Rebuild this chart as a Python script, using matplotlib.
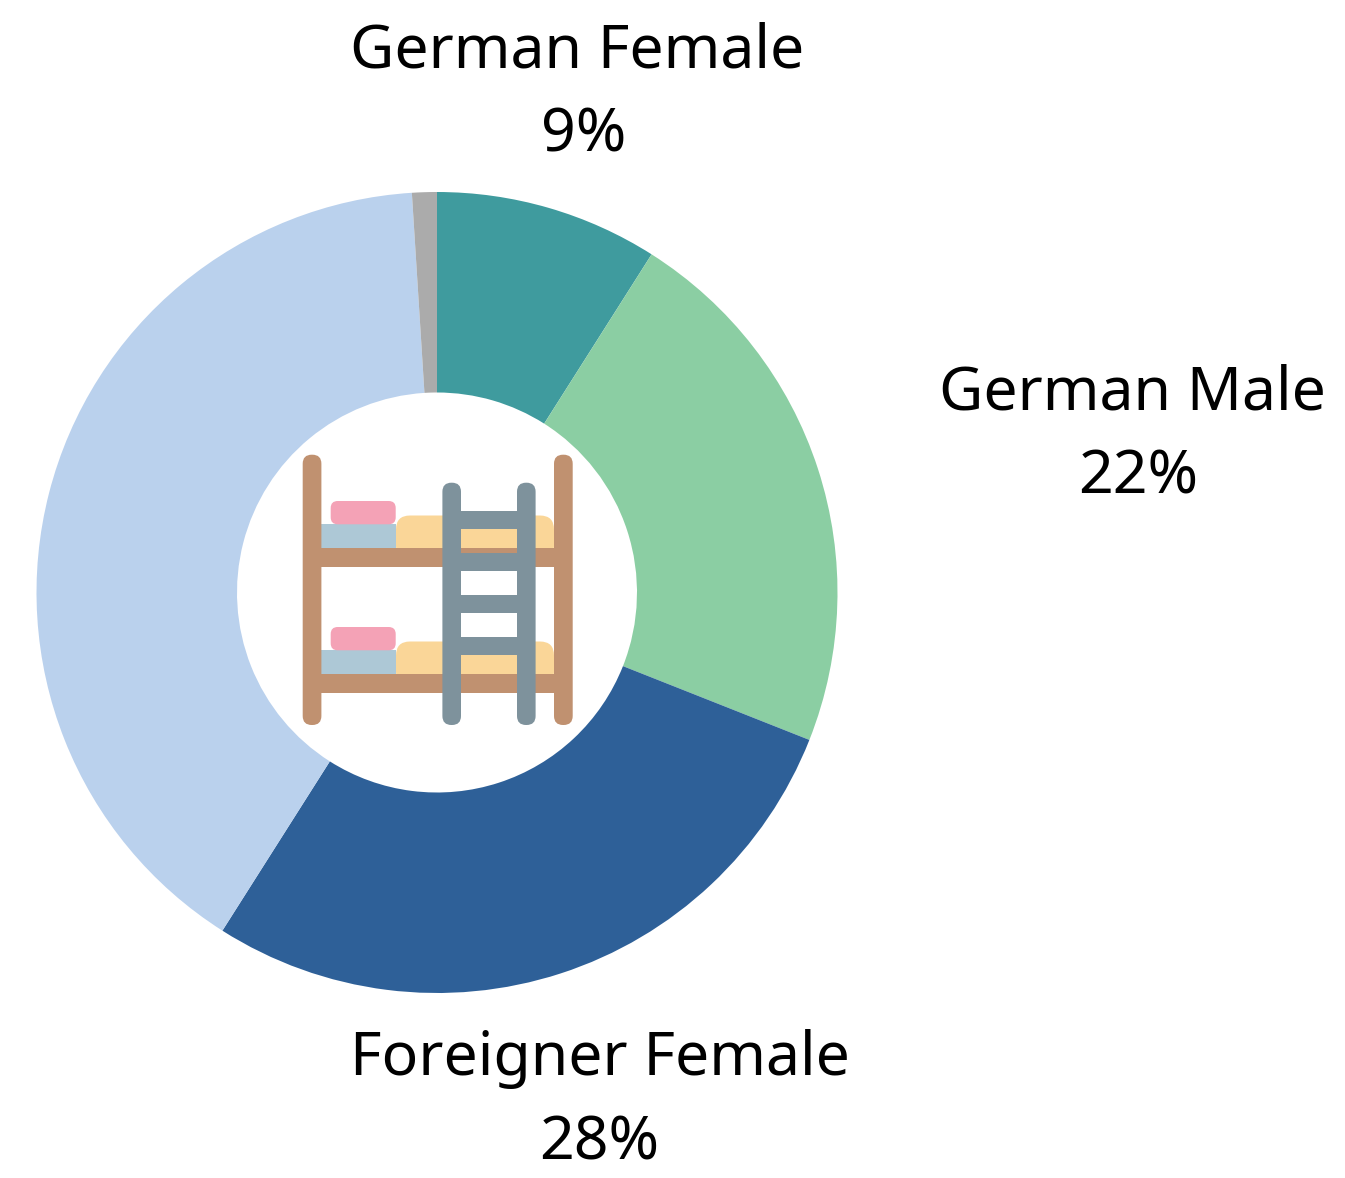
import matplotlib
matplotlib.use("Agg")
import matplotlib.pyplot as plt
from matplotlib.patches import FancyBboxPatch, Rectangle

W, H = 1345, 1178

labels = ["German Female", "German Male", "Foreigner Female", "Foreigner Male", "Other"]
values = [9, 22, 28, 40, 1]
colors = ["#3F9B9E", "#8BCEA3", "#2E6098", "#BAD1ED", "#ABABAB"]

plt.rcParams['font.family'] = ['Noto Sans', 'DejaVu Sans']

fig = plt.figure(figsize=(W / 100, H / 100), dpi=100, facecolor="white")
ax = fig.add_axes([0, 0, 1, 1])


def py(y):
    return H - y


ax.pie(values, colors=colors, startangle=90, counterclock=False,
       center=(437, py(592.5)), radius=400.5, frame=True,
       wedgeprops=dict(width=200.5, linewidth=0))
ax.set_xlim(0, W)
ax.set_ylim(0, H)
ax.set_aspect("equal")
ax.axis("off")


def rbox(x0, y0, x1, y1, color, r=0, z=3):
    if r == 0:
        ax.add_patch(Rectangle((x0, py(y1)), x1 - x0, y1 - y0, color=color, lw=0, zorder=z))
    else:
        ax.add_patch(FancyBboxPatch((x0 + r, py(y1) + r), x1 - x0 - 2 * r, y1 - y0 - 2 * r,
                                    boxstyle=f"round,pad={r},rounding_size={r}",
                                    fc=color, ec="none", lw=0, zorder=z))


# bunk bed icon
wood = "#C09170"
steel = "#7E929C"
for top in (0, 126):
    rbox(396, 515.5 + top, 554, 560 + top, "#FAD698", 14, 3)
    rbox(321, 524 + top, 396, 552 + top, "#ADC8D6", 0, 3)
    rbox(330.7, 501 + top, 395.7, 524.3 + top, "#F4A2B6", 7, 4)
    rbox(321, 548 + top, 555, 566.8 + top, wood, 0, 5)
for x0 in (302.7, 554):
    rbox(x0, 454.7, x0 + 18.7, 725, wood, 9, 6)
for y0 in (510.7, 552.7, 594.5, 636.5):
    rbox(455, y0, 525, y0 + 18.4, steel, 0, 7)
for x0 in (442.4, 517):
    rbox(x0, 482.7, x0 + 18.6, 725, steel, 9, 8)

fs = 43.8
ax.text(577, py(51), "German Female", fontsize=fs, ha="center", va="center", color="black")
ax.text(584, py(135), "9%", fontsize=fs, ha="center", va="center", color="black")
ax.text(1132, py(394), "German Male", fontsize=fs, ha="center", va="center", color="black")
ax.text(1138, py(478), "22%", fontsize=fs, ha="center", va="center", color="black")
ax.text(600, py(1059), "Foreigner Female", fontsize=fs, ha="center", va="center", color="black")
ax.text(599, py(1143), "28%", fontsize=fs, ha="center", va="center", color="black")

fig.savefig("out.png", dpi=100, facecolor="white")
